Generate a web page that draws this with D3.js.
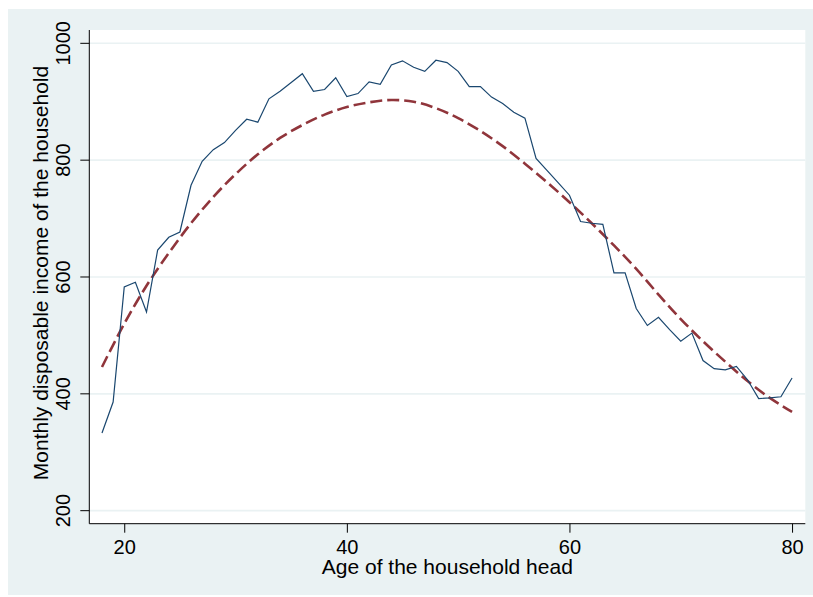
<meta charset="utf-8" />
<style>
	body { margin: 0; }
	svg { display: block; }
</style>
<svg width="813" height="597"></svg>
<script src="https://cdn.jsdelivr.net/npm/d3@7"></script>
<script>
	// mean income by age of the household head, ages 18..80
	var ages = d3.range(18, 81);
	var income = [
		333, 386, 583, 591, 540, 646, 668, 677, 757, 798, 818, 830, 851,
		870, 865, 905, 918, 933, 948, 918, 921, 941, 909, 914, 934, 930,
		963, 970, 959, 952, 971, 967, 952, 926, 926, 908, 897, 882, 872,
		803, 782, 761, 740, 695, 692, 690, 607, 607, 546, 517, 531, 510,
		490, 504, 457, 443, 441, 447, 424, 392, 393, 395, 427
	];

	// fitted curve, read every two years
	var fitAges = d3.range(18, 81, 2);
	var fitted = [
		446, 520, 585, 641, 692, 737, 776, 810, 838, 860, 878, 891, 899,
		903, 900, 889, 872, 850, 824, 794, 762, 728, 692, 654, 614, 570,
		528, 490, 455, 422, 393, 369
	];

	var xTicks = [20, 40, 60, 80];
	var yTicks = [200, 400, 600, 800, 1000];

	var svg = d3.select('svg'),
		width = +svg.attr('width'),
		height = +svg.attr('height');

	var plot = { x0: 89.3, x1: 805.3, y0: 30, y1: 523.7 };

	var x = d3.scaleLinear().domain([16.86, 81.19]).range([plot.x0, plot.x1]);
	var y = d3.scaleLinear().domain([177.7, 1022.8]).range([plot.y1, plot.y0]);

	svg.append('rect')
		.attr('width', width)
		.attr('height', height)
		.style('fill', '#fff');

	svg.append('rect')
		.attr('x', 8)
		.attr('y', 9)
		.attr('width', width - 8)
		.attr('height', 586)
		.style('fill', '#eaf2f3');

	svg.append('rect')
		.attr('x', plot.x0)
		.attr('y', plot.y0)
		.attr('width', plot.x1 - plot.x0)
		.attr('height', plot.y1 - plot.y0)
		.style('fill', '#fff');

	// gridlines
	svg.append('g')
		.selectAll('line')
		.data(yTicks)
		.enter()
		.append('line')
		.attr('x1', plot.x0)
		.attr('x2', plot.x1)
		.attr('y1', d => y(d))
		.attr('y2', d => y(d))
		.style('stroke', '#eaf2f3')
		.style('stroke-width', 1.6);

	var font = 'Arial, "Liberation Sans", Helvetica, sans-serif';

	var xAxis = svg.append('g')
		.attr('transform', 'translate(0,' + plot.y1 + ')')
		.call(d3.axisBottom(x).tickValues(xTicks).tickSize(9).tickPadding(7).tickSizeOuter(0));
	xAxis.select('.domain').attr('d', 'M' + plot.x0 + ',0H' + plot.x1);
	xAxis.selectAll('text').style('font', '20px ' + font).style('fill', '#000');

	var yAxis = svg.append('g')
		.attr('transform', 'translate(' + plot.x0 + ',0)')
		.call(d3.axisLeft(y).tickValues(yTicks).tickFormat(d3.format('d')).tickSize(9).tickSizeOuter(0));
	yAxis.select('.domain').attr('d', 'M0,' + plot.y0 + 'V' + plot.y1);
	yAxis.selectAll('.tick').attr('transform', d => 'translate(0,' + y(d) + ')');
	yAxis.selectAll('.tick text')
		.attr('x', null)
		.attr('dy', null)
		.attr('y', 0)
		.attr('transform', 'translate(-19.5,0) rotate(-90)')
		.style('text-anchor', 'middle')
		.style('font', '20px ' + font)
		.style('fill', '#000');

	svg.selectAll('.domain, .tick line').style('stroke', '#000').style('stroke-width', 1);

	var line = d3.line()
		.x(d => x(d[0]))
		.y(d => y(d[1]));

	svg.append('path')
		.datum(d3.zip(fitAges, fitted))
		.attr('d', line.curve(d3.curveCatmullRom))
		.style('fill', 'none')
		.style('stroke', '#90353b')
		.style('stroke-width', 2.6)
		.style('stroke-dasharray', '12,5');

	svg.append('path')
		.datum(d3.zip(ages, income))
		.attr('d', line.curve(d3.curveLinear))
		.style('fill', 'none')
		.style('stroke', '#1a476f')
		.style('stroke-width', 1.2);

	svg.append('text')
		.attr('x', (plot.x0 + plot.x1) / 2)
		.attr('y', 574)
		.style('text-anchor', 'middle')
		.style('font', '21px ' + font)
		.text('Age of the household head');

	svg.append('text')
		.attr('transform', 'translate(48,273) rotate(-90)')
		.style('text-anchor', 'middle')
		.style('font', '21px ' + font)
		.text('Monthly disposable income of the household');
</script>
